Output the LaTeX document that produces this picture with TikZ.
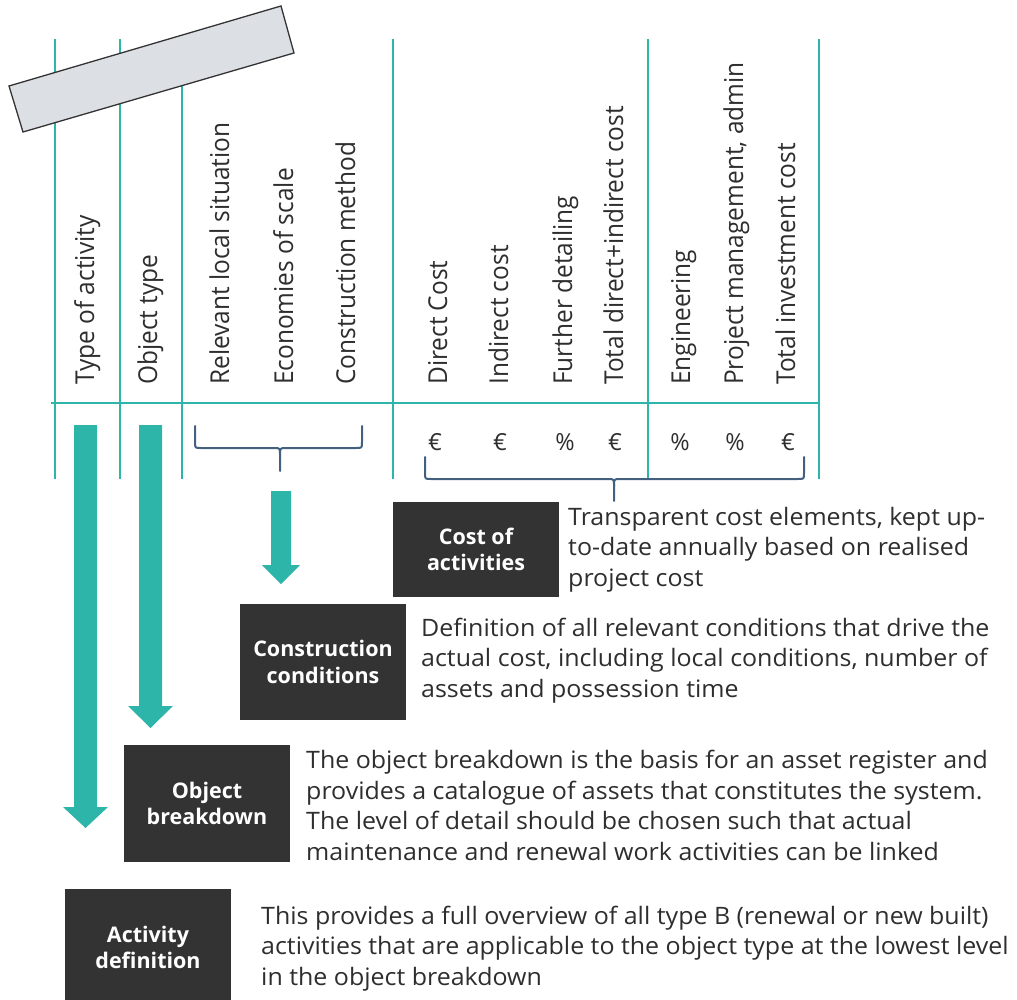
\documentclass[tikz,border=0pt]{standalone}
\usepackage{fontspec}
\setmainfont{Open Sans}
\newfontfamily\colfont{Open Sans}[FakeStretch=0.94]
\newfontfamily\descfont{Open Sans}[FakeStretch=1.04]
\newfontfamily\boxfont{Open Sans}
\definecolor{tealc}{HTML}{2CB5A8}
\definecolor{boxc}{HTML}{333333}
\definecolor{txtc}{HTML}{2E2E2E}
\definecolor{bracec}{HTML}{44607F}
\definecolor{tiltc}{HTML}{DCE0E5}
\definecolor{tiltedge}{HTML}{333333}
\begin{document}
\begin{tikzpicture}[x=1pt,y=-1pt,
  gridline/.style={draw=tealc, line width=2.6pt},
  collabel/.style={rotate=90, anchor=base west, inner sep=0pt,
    font=\colfont\fontsize{26}{30}\selectfont, text=txtc},
  unitlabel/.style={anchor=base, inner sep=0pt,
    font=\boxfont\fontsize{23.5}{28}\selectfont, text=txtc},
  darkbox/.style={fill=boxc, text=white, minimum width=166pt, inner sep=0pt,
    align=center, font=\boxfont\bfseries\fontsize{21.5}{26.5}\selectfont},
  desc/.style={anchor=base west, align=left, inner sep=0pt,
    font=\descfont\fontsize{24}{30.5}\selectfont, text=txtc},
  bracepath/.style={draw=bracec, line width=2pt, line cap=round},
  blockarrow/.style={fill=tealc}]
\path[use as bounding box] (0,0) rectangle (1017,1000);

% table grid
\foreach \x in {55,120,182,393,648,819}
  \draw[gridline] (\x,39) -- (\x,479);
\draw[gridline] (51,403) -- (820,403);

% tilted label plate
\draw[fill=tiltc, draw=tiltedge, line width=1.3pt]
  (9,86) -- (281,6) -- (294,53) -- (23,132) -- cycle;

% column headings
\node[collabel] (h1)  at (94,385)  {Type of activity};
\node[collabel] (h2)  at (157,385) {Object type};
\node[collabel] (h3)  at (229,385) {Relevant local situation};
\node[collabel] (h4)  at (293,385) {Economies of scale};
\node[collabel] (h5)  at (355,385) {Construction method};
\node[collabel] (h6)  at (447,385) {Direct Cost};
\node[collabel] (h7)  at (508,385) {Indirect cost};
\node[collabel] (h8)  at (572,385) {Further detailing};
\node[collabel] (h9)  at (623,385) {Total direct+indirect cost};
\node[collabel] (h10) at (690,385) {Engineering};
\node[collabel] (h11) at (743,385) {Project management, admin};
\node[collabel] (h12) at (795,385) {Total investment cost};

% units
\node[unitlabel] (u6)  at (435,450) {€};
\node[unitlabel] (u7)  at (500,450) {€};
\node[unitlabel] (u8)  at (565,450) {\%};
\node[unitlabel] (u9)  at (615,450) {€};
\node[unitlabel] (u10) at (680,450) {\%};
\node[unitlabel] (u11) at (735,450) {\%};
\node[unitlabel] (u12) at (788,450) {€};

% braces
\draw[bracepath] (195,426) -- (195,442) .. controls (195,448) .. (201,448)
  -- (274,448) .. controls (280,448) .. (280,455) -- (280,471);
\draw[bracepath] (362,426) -- (362,442) .. controls (362,448) .. (356,448)
  -- (286,448) .. controls (280,448) .. (280,455);
\draw[bracepath] (425,457) -- (425,473) .. controls (425,479) .. (431,479)
  -- (608,479) .. controls (614,479) .. (614,486) -- (614,501);
\draw[bracepath] (804,457) -- (804,473) .. controls (804,479) .. (798,479)
  -- (620,479) .. controls (614,479) .. (614,486);

% block arrows
\fill[blockarrow] (74,425) -- (97,425) -- (97,807) -- (108,807) -- (85.5,828)
  -- (63,807) -- (74,807) -- cycle;
\fill[blockarrow] (139,425) -- (162,425) -- (162,706) -- (173,706) -- (150.5,728)
  -- (128,706) -- (139,706) -- cycle;
\fill[blockarrow] (271,491) -- (291,491) -- (291,565) -- (300,565) -- (281,584)
  -- (262,565) -- (271,565) -- cycle;

% steps
\node[darkbox, minimum height=95pt]  (cost) at (476,549.5) {Cost of\\activities};
\node[darkbox, minimum height=116pt] (cons) at (323,662)   {Construction\\conditions};
\node[darkbox, minimum height=117pt] (obj)  at (207,803.5) {Object\\breakdown};
\node[darkbox, minimum height=117pt] (act)  at (148,947.5) {Activity\\definition};

% descriptions (anchored at the baseline of their last line)
\node[desc] (costtxt) at (568,586) {Transparent cost elements, kept up-\\to-date annually based on realised\\project cost};
\node[desc] (constxt) at (421,697) {Definition of all relevant conditions that drive the\\actual cost, including local conditions, number of\\assets and possession time};
\node[desc] (objtxt) at (306,860) {The object breakdown is the basis for an asset register and\\provides a catalogue of assets that constitutes the system.\\The level of detail should be chosen such that actual\\maintenance and renewal work activities can be linked};
\node[desc] (acttxt) at (261,985) {This provides a full overview of all type B (renewal or new built)\\activities that are applicable to the object type at the lowest level\\in the object breakdown};
\end{tikzpicture}
\end{document}
